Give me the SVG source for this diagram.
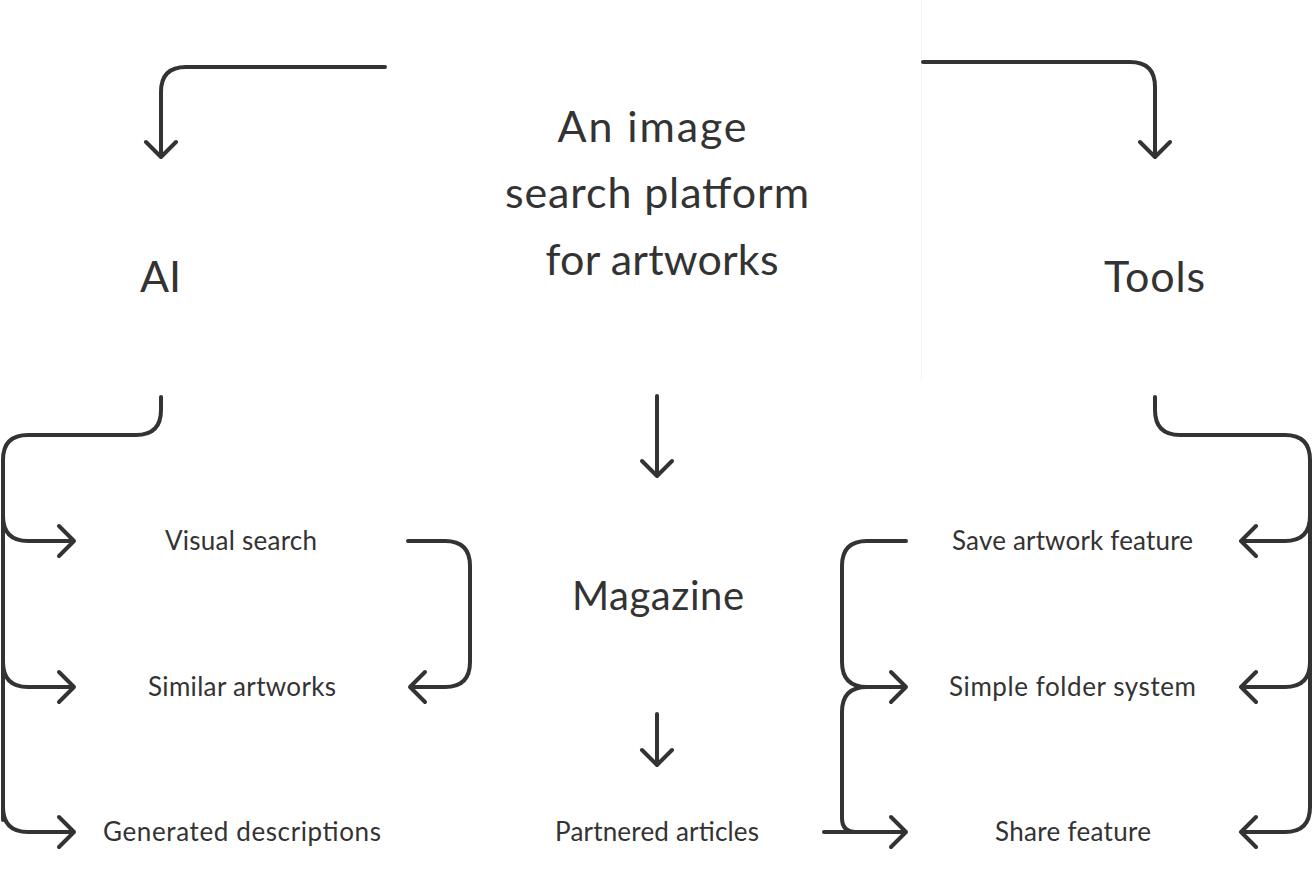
<svg xmlns="http://www.w3.org/2000/svg" width="1312" height="888" viewBox="0 0 1312 888">
<style>
.c{fill:none;stroke:#333;stroke-width:4;stroke-linecap:round;stroke-linejoin:round}
.t{font-family:Lato,"Noto Sans",sans-serif;fill:#333;text-anchor:middle}
.big{font-size:43px}
.mid{font-size:40px}
.sm{font-size:26px}
</style>
<rect width="1312" height="888" fill="#fff"/>
<line x1="921.5" y1="0" x2="921.5" y2="380" stroke="#f4f4f4" stroke-width="1"/>
<g id="title"><text class="t big" x="652" y="142" textLength="189">An image</text>
<text class="t big" x="657" y="208" textLength="304">search platform</text>
<text class="t big" x="662" y="275" textLength="233">for artworks</text></g>
<g id="ai"><text class="t big" x="160.5" y="292" textLength="41">AI</text></g>
<g id="tools"><text class="t big" x="1154.5" y="292" textLength="101">Tools</text></g>
<g id="magazine"><text class="t mid" x="658" y="610" textLength="172">Magazine</text></g>
<g id="visual-search"><text class="t sm" x="241" y="550" textLength="152">Visual search</text></g>
<g id="similar-artworks"><text class="t sm" x="242" y="696" textLength="188">Similar artworks</text></g>
<g id="generated-descriptions"><text class="t sm" x="242" y="841" textLength="278">Generated descriptions</text></g>
<g id="partnered-articles"><text class="t sm" x="657" y="841" textLength="204">Partnered articles</text></g>
<g id="save-artwork"><text class="t sm" x="1072.5" y="550" textLength="241">Save artwork feature</text></g>
<g id="folder-system"><text class="t sm" x="1072.5" y="696" textLength="247">Simple folder system</text></g>
<g id="share-feature"><text class="t sm" x="1073" y="841" textLength="156">Share feature</text></g>
<g id="connectors">
<path class="c" d="M385 67 L186 67 Q161 67 161 92 L161 156 M146 142 L161 157 L176 142"/>
<path class="c" d="M923 62 L1130 62 Q1155 62 1155 87 L1155 156 M1140 142 L1155 157 L1170 142"/>
<path class="c" d="M161 397 L161 410 Q161 435 136 435 L28 435 Q3 435 3 460 L3 820"/>
<path class="c" d="M3 516 Q3 541 28 541 L74 541 M59 526 L74 541 L59 556"/>
<path class="c" d="M3 662 Q3 687 28 687 L74 687 M59 672 L74 687 L59 702"/>
<path class="c" d="M3 807 Q3 832 28 832 L74 832 M59 817 L74 832 L59 847"/>
<path class="c" d="M408 541 L445 541 Q470 541 470 566 L470 662 Q470 687 445 687 L410 687 M425 672 L410 687 L425 702"/>
<path class="c" d="M657 396 L657 476 M642 461 L657 476 L672 461"/>
<path class="c" d="M657 714 L657 765 M642 750 L657 765 L672 750"/>
<path class="c" d="M906 541 L867 541 Q842 541 842 566 L842 662 Q842 687 867 687 L906 687 M891 672 L906 687 L891 702"/>
<path class="c" d="M867 687 Q842 687 842 712 L842 818 Q842 832 856 832"/>
<path class="c" d="M824 832 L906 832 M891 817 L906 832 L891 847"/>
<path class="c" d="M1155 397 L1155 410 Q1155 435 1180 435 L1285 435 Q1310 435 1310 460 L1310 807 Q1310 832 1285 832 L1241 832 M1256 817 L1241 832 L1256 847"/>
<path class="c" d="M1310 516 Q1310 541 1285 541 L1241 541 M1256 526 L1241 541 L1256 556"/>
<path class="c" d="M1310 662 Q1310 687 1285 687 L1241 687 M1256 672 L1241 687 L1256 702"/>
</g>
</svg>
